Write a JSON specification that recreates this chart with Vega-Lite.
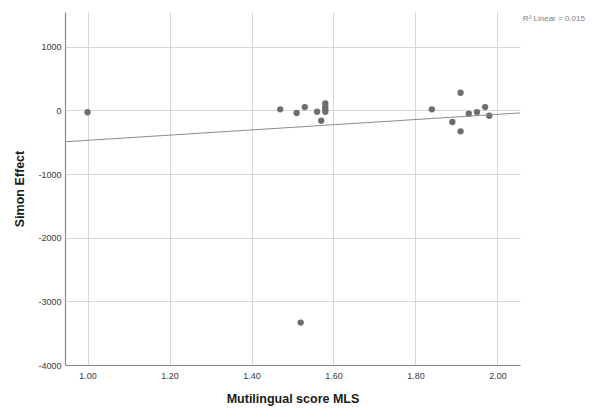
{
  "$schema": "https://vega.github.io/schema/vega-lite/v6.json",
  "width": 455,
  "height": 353,
  "autosize": {"type": "none"},
  "padding": {"left": 65, "top": 12, "right": 79, "bottom": 46},
  "background": "white",
  "config": {
    "view": {"stroke": null},
    "font": "Liberation Sans",
    "axis": {
      "labelFont": "Liberation Sans",
      "titleFont": "Liberation Sans",
      "labelFontSize": 9,
      "labelColor": "#3a3a3a",
      "titleFontSize": 12.5,
      "titleFontWeight": "bold",
      "titleColor": "#1a1a1a",
      "domainColor": "#8a8a8a",
      "domainWidth": 1.2,
      "gridColor": "#d6d6d6",
      "gridWidth": 1,
      "ticks": false
    }
  },
  "data": {
    "values": [
      {"mls": 1.00, "simon": -30},
      {"mls": 1.47, "simon": 16},
      {"mls": 1.51, "simon": -42},
      {"mls": 1.53, "simon": 52},
      {"mls": 1.56, "simon": -22},
      {"mls": 1.57, "simon": -163},
      {"mls": 1.58, "simon": 110},
      {"mls": 1.58, "simon": 56},
      {"mls": 1.58, "simon": 16},
      {"mls": 1.58, "simon": -22},
      {"mls": 1.52, "simon": -3334},
      {"mls": 1.84, "simon": 16},
      {"mls": 1.91, "simon": 276},
      {"mls": 1.89, "simon": -183},
      {"mls": 1.91, "simon": -330},
      {"mls": 1.93, "simon": -53},
      {"mls": 1.95, "simon": -27},
      {"mls": 1.97, "simon": 52},
      {"mls": 1.98, "simon": -85}
    ]
  },
  "layer": [
    {
      "mark": {"type": "circle", "size": 40, "color": "#6e6e6e", "opacity": 1},
      "encoding": {
        "x": {
          "field": "mls",
          "type": "quantitative",
          "scale": {"domain": [0.945, 2.055], "nice": false, "zero": false},
          "axis": {
            "title": "Mutilingual score MLS",
            "values": [1.0, 1.2, 1.4, 1.6, 1.8, 2.0],
            "format": ".2f",
            "labelPadding": 6,
            "titlePadding": 12
          }
        },
        "y": {
          "field": "simon",
          "type": "quantitative",
          "scale": {"domain": [-4000, 1545], "nice": false, "zero": false},
          "axis": {
            "title": "Simon Effect",
            "values": [-4000, -3000, -2000, -1000, 0, 1000],
            "labelExpr": "toString(datum.value)",
            "labelPadding": 4,
            "titlePadding": 11
          }
        }
      }
    },
    {
      "transform": [
        {"regression": "simon", "on": "mls", "extent": [0.945, 2.055]}
      ],
      "mark": {"type": "line", "color": "#8c8c8c", "strokeWidth": 1},
      "encoding": {
        "x": {"field": "mls", "type": "quantitative"},
        "y": {"field": "simon", "type": "quantitative"}
      }
    },
    {
      "data": {"values": [{"label": "R² Linear = 0.015"}]},
      "mark": {"type": "text", "align": "left", "baseline": "middle", "fontSize": 8, "color": "#808080", "font": "Liberation Sans"},
      "encoding": {
        "x": {"datum": 2.062, "type": "quantitative"},
        "y": {"datum": 1430, "type": "quantitative"},
        "text": {"field": "label"}
      }
    }
  ]
}
